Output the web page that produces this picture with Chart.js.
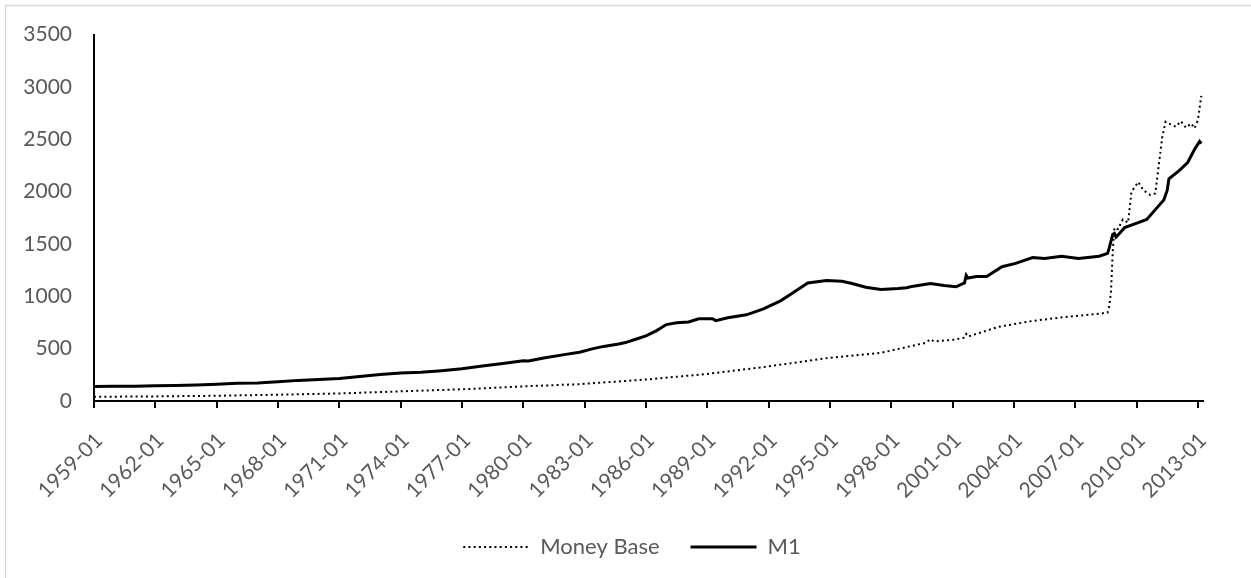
<!DOCTYPE html>
<html>
<head>
<meta charset="utf-8">
<script src="https://cdn.jsdelivr.net/npm/chart.js@4.4.1/dist/chart.umd.min.js"></script>
<style>
  html, body { margin: 0; padding: 0; background: #ffffff; }
  #wrap { position: relative; width: 1251px; height: 578px; }
</style>
</head>
<body>
<div id="wrap"><canvas id="c" width="1251" height="578"></canvas></div>
<script>
// ---- data (billions of US$) ----
const startYear = 1959;
const tickLabelsYears = [1959, 1962, 1965, 1968, 1971, 1974, 1977, 1980, 1983, 1986, 1989, 1992, 1995, 1998, 2001, 2004, 2007, 2010, 2013];
const yTicks = [0, 500, 1000, 1500, 2000, 2500, 3000, 3500];

const m1Dates = ["1959-01","1960-01","1961-01","1962-01","1963-01","1964-01","1965-01","1966-01","1967-01","1968-01",
  "1969-01","1970-01","1971-01","1972-01","1973-01","1974-01","1975-01","1976-01","1977-01","1978-01",
  "1979-01","1980-01","1980-04","1981-01","1982-01","1982-10","1983-06","1984-01","1984-09","1985-01",
  "1985-07","1986-01","1986-07","1987-01","1987-07","1988-02","1988-08","1989-04","1989-06","1990-01",
  "1990-12","1991-10","1992-08","1993-02","1993-12","1994-11","1995-08","1996-02","1996-10","1997-07",
  "1998-05","1998-10","1999-02","1999-12","2000-08","2001-03","2001-08","2001-09","2001-10","2002-03",
  "2002-09","2003-06","2004-02","2004-12","2005-07","2006-05","2007-03","2008-03","2008-08","2008-09",
  "2008-11","2008-12","2009-01","2009-06","2010-02","2010-07","2010-12","2011-05","2011-07","2011-08",
  "2012-02","2012-07","2012-11","2013-02","2013-03"];
const m1Values = [139,140,141,146,149,154,160,169,172,183,
  197,206,216,235,252,267,275,290,308,335,
  359,385,383,410,443,465,500,524,545,558,
  590,622,670,730,748,755,786,786,768,795,
  823,880,957,1019,1128,1150,1143,1122,1087,1066,
  1075,1082,1097,1122,1103,1091,1128,1200,1175,1190,
  1190,1283,1315,1371,1361,1383,1361,1383,1410,1465,
  1590,1600,1565,1656,1703,1735,1828,1921,2014,2123,
  2201,2278,2402,2480,2458];

const mbDates = ["1959-01","1962-01","1965-01","1968-01","1971-01","1974-01","1977-01","1980-01","1982-09","1986-01",
  "1988-12","1991-11","1994-10","1997-07","1999-09","1999-12","2000-02","2001-01","2001-08","2001-09",
  "2001-10","2003-04","2004-12","2006-07","2008-03","2008-08","2008-09","2008-10","2008-11","2008-12",
  "2009-02","2009-05","2009-08","2009-10","2010-02","2010-05","2010-09","2010-12","2011-04","2011-06",
  "2011-12","2012-03","2012-06","2012-09","2012-11","2013-01","2013-03"];
const mbValues = [40,44,50,60,72,92,112,140,160,205,
  257,326,407,460,555,590,569,584,605,640,
  615,709,765,802,833,845,905,1050,1423,1656,
  1641,1735,1703,1998,2092,2014,1968,1983,2512,2667,
  2620,2673,2611,2651,2605,2682,2915];

// ---- helpers ----
function monthIndex(s) { const p = s.split("-"); return (parseInt(p[0]) - startYear) * 12 + (parseInt(p[1]) - 1); }
function toPoints(dates, vals) { return dates.map((d, i) => ({ x: monthIndex(d), y: vals[i] })); }
const tickIdx = tickLabelsYears.map(y => (y - startYear) * 12);

const FONT = "Lato";
const TXT = "#595959";
const FS = 21;

const borderPlugin = {
  id: "outerBorder",
  beforeDraw(chart) {
    const ctx = chart.ctx;
    ctx.save();
    ctx.fillStyle = "#ffffff";
    ctx.fillRect(0, 0, chart.width, chart.height);
    ctx.strokeStyle = "#d9d9d9";
    ctx.lineWidth = 1.5;
    ctx.strokeRect(5.5, 5.5, chart.width + 20, chart.height + 20);
    ctx.restore();
  }
};
// centre the legend under the whole picture rather than under the plot
const legendShift = {
  id: "legendShift",
  afterLayout(chart) { if (chart.legend) { chart.legend.left += 28; chart.legend.right += 28; } }
};

new Chart(document.getElementById("c"), {
  type: "line",
  data: {
    datasets: [
      { label: "Money Base", data: toPoints(mbDates, mbValues), borderColor: "#000", backgroundColor: "#000",
        borderWidth: 2, borderDash: [2, 3.2], pointRadius: 0, tension: 0, fill: false },
      { label: "M1", data: toPoints(m1Dates, m1Values), borderColor: "#000", backgroundColor: "#000",
        borderWidth: 3, pointRadius: 0, tension: 0, fill: false }
    ]
  },
  options: {
    responsive: false,
    animation: false,
    devicePixelRatio: 1,
    layout: { padding: { left: 5, right: 48, top: 34, bottom: 10 } },
    plugins: {
      tooltip: { enabled: false },
      legend: {
        position: "bottom",
        labels: {
          color: TXT, font: { family: FONT, size: 22 },
          boxWidth: 66, boxHeight: 0, padding: 31,
          generateLabels(chart) {
            return chart.data.datasets.map((ds, i) => ({
              text: ds.label, fillStyle: "#000", strokeStyle: "#000",
              lineWidth: ds.borderWidth, lineDash: ds.borderDash || [], hidden: false,
              datasetIndex: i, fontColor: TXT
            }));
          }
        }
      }
    },
    scales: {
      x: {
        type: "linear", min: 0, max: 651,
        afterBuildTicks(axis) { axis.ticks = tickIdx.map(v => ({ value: v })); },
        afterFit(axis) { axis.height = 104; },
        grid: { drawOnChartArea: false, drawTicks: true, tickLength: 7, color: "#000", lineWidth: 2 },
        border: { display: true, color: "#000", width: 2 },
        ticks: {
          autoSkip: false, minRotation: 45, maxRotation: 45, color: TXT,
          font: { family: FONT, size: FS }, padding: 20, labelOffset: 5,
          callback(v) { return (startYear + Math.round(v / 12)) + "-01"; }
        }
      },
      y: {
        min: 0, max: 3500,
        afterBuildTicks(axis) { axis.ticks = yTicks.map(v => ({ value: v })); },
        afterFit(axis) { axis.width = 89; },
        grid: { display: false, drawTicks: false },
        border: { display: true, color: "#000", width: 2 },
        ticks: { color: TXT, font: { family: FONT, size: FS }, padding: 22,
          callback(v) { return String(v); } }
      }
    }
  },
  plugins: [borderPlugin, legendShift]
});
</script>
</body>
</html>
